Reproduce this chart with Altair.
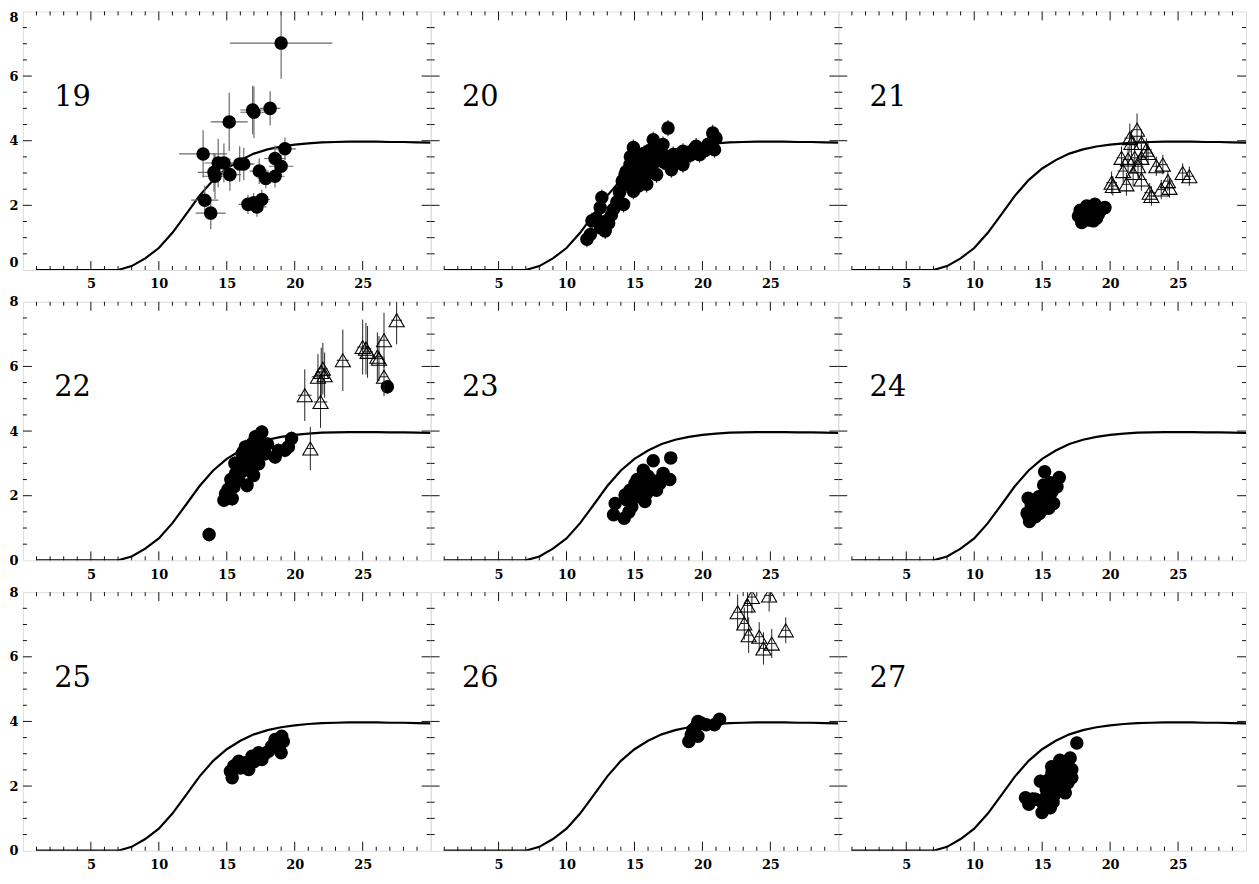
import altair as alt
import pandas as pd

FONT = "DejaVu Serif"
W, H = 410, 260

PANEL_LABELS = ["19", "20", "21", "22", "23", "24", "25", "26", "27"]

CURVE_X = [1, 2, 3, 4, 5, 6, 7, 8, 9, 10, 11, 12, 13, 14, 15, 16, 17, 18, 19, 20,
           21, 22, 23, 24, 25, 26, 27, 28, 29, 30]
CURVE_Y = [0, 0, 0, 0, 0, 0, 0, 0.12, 0.36, 0.68, 1.15, 1.72, 2.30, 2.78, 3.14, 3.40,
           3.60, 3.73, 3.82, 3.88, 3.92, 3.95, 3.96, 3.97, 3.97, 3.97, 3.96, 3.96, 3.95, 3.94]

X_MAJOR = [5, 10, 15, 20, 25]
X_MINOR = [1, 2, 3, 4, 6, 7, 8, 9, 11, 12, 13, 14, 16, 17, 18, 19, 21, 22, 23, 24, 26, 27, 28, 29]
Y_MAJOR = [0, 2, 4, 6, 8]
Y_MINOR = [0.5, 1, 1.5, 2.5, 3, 3.5, 4.5, 5, 5.5, 6.5, 7, 7.5]

# ---- panel 19 ----
C19_X = [19.0, 15.18, 17.0, 16.9, 18.19, 13.26, 19.28, 14.37, 14.79, 14.06, 14.13, 15.23, 15.95,
         16.25, 17.39, 17.87, 18.55, 19.0, 18.55, 13.38, 13.82, 16.56, 16.98, 17.22, 17.58]
C19_Y = [7.02, 4.58, 4.88, 4.95, 5.0, 3.59, 3.75, 3.31, 3.31, 3.02, 2.9, 2.95, 3.28,
         3.28, 3.06, 2.83, 3.45, 3.21, 2.9, 2.16, 1.76, 2.03, 2.08, 1.95, 2.18]
C19_XE = [3.77, 1.36, 1.0, 0.9, 0.75, 1.76, 0.8, 1.0, 0.7, 1.2, 0.9, 0.8, 1.0,
          0.8, 0.7, 0.6, 0.8, 0.9, 0.7, 1.0, 1.1, 0.7, 0.6, 0.7, 0.6]
C19_YE = [1.1, 0.9, 0.8, 0.75, 0.53, 0.73, 0.35, 0.75, 0.6, 0.6, 0.7, 0.5, 0.55,
          0.5, 0.4, 0.3, 0.4, 0.35, 0.35, 0.45, 0.5, 0.3, 0.3, 0.3, 0.3]

# ---- panel 20 ----
C20_X = [11.5, 11.75, 11.87, 12.6, 12.48, 12.85, 12.97, 13.45, 14.2, 14.31, 14.44, 14.92, 14.67,
         14.92, 15.4, 15.4, 15.9, 15.9, 16.38, 16.63, 16.63, 17.1, 17.1, 17.47, 17.72, 17.85,
         18.57, 18.57, 19.54, 19.79, 20.4, 20.76, 20.89, 21.0, 14.4, 14.9, 15.1, 15.6, 15.9,
         16.4, 16.9, 17.4, 14.3, 14.1, 15.0, 15.6, 13.9, 13.7, 13.3, 12.5, 16.1, 16.6, 15.5,
         18.1, 19.1, 20.2, 14.7, 15.2, 15.7, 16.2, 16.8, 17.3, 14.6, 15.3, 16.0, 15.0, 13.1,
         12.2, 18.3, 19.4, 20.5]
C20_Y = [0.95, 1.1, 1.52, 2.24, 1.93, 1.21, 1.52, 1.88, 2.03, 2.95, 2.65, 3.79, 3.26,
         2.44, 3.36, 2.85, 2.65, 3.47, 4.03, 3.57, 2.95, 3.88, 3.36, 4.39, 3.1, 3.57,
         3.67, 3.26, 3.83, 3.57, 3.88, 4.24, 3.72, 4.08, 3.05, 3.05, 3.2, 3.3, 3.1,
         3.3, 3.4, 3.5, 2.85, 2.75, 2.75, 2.95, 2.4, 2.1, 1.7, 1.3, 3.7, 3.8, 3.55,
         3.45, 3.55, 3.7, 3.5, 3.55, 3.6, 3.45, 3.65, 3.3, 2.8, 2.6, 3.0, 3.4, 1.45,
         1.6, 3.5, 3.75, 3.9]

# ---- panel 21 ----
C21_X = [17.67, 17.91, 18.28, 18.88, 19.62, 18.77, 19.13, 18.16, 18.5, 19.3, 18.4, 17.8, 19.0]
C21_Y = [1.67, 1.47, 1.98, 2.03, 1.93, 1.52, 1.72, 1.72, 1.85, 1.85, 1.55, 1.85, 1.6]
T21_X = [21.98, 21.45, 21.57, 22.3, 22.67, 22.79, 20.84, 21.32, 21.81, 22.3, 22.05, 23.4, 23.88,
         20.96, 21.69, 25.34, 25.83, 20.11, 21.2, 22.3, 24.25, 24.37, 23.76, 22.91, 23.04, 20.2]
T21_Y = [4.34, 4.08, 3.93, 3.93, 3.72, 3.62, 3.47, 3.42, 3.47, 3.47, 3.21, 3.21, 3.26,
         3.06, 3.0, 3.0, 2.9, 2.7, 2.65, 2.8, 2.75, 2.54, 2.49, 2.39, 2.29, 2.6]
T21_XE = [0.35, 0.4, 0.3, 0.35, 0.4, 0.3, 0.35, 0.4, 0.3, 0.35, 0.4, 0.3, 0.35,
          0.4, 0.35, 0.3, 0.35, 0.4, 0.35, 0.4, 0.35, 0.3, 0.35, 0.4, 0.3, 0.35]
T21_YE = [0.5, 0.45, 0.4, 0.4, 0.35, 0.35, 0.35, 0.4, 0.45, 0.4, 0.35, 0.3, 0.3,
          0.35, 0.4, 0.3, 0.3, 0.35, 0.35, 0.35, 0.3, 0.3, 0.3, 0.3, 0.3, 0.3]

# ---- panel 22 ----
C22_X = [13.7, 26.82, 19.77, 14.79, 15.4, 14.91, 15.52, 15.64, 15.88, 16.37, 16.37, 16.86, 17.1,
         17.58, 17.46, 16.49, 16.97, 17.35, 17.83, 18.56, 19.28, 19.53, 15.88, 16.13, 15.3, 16.0,
         16.6, 17.0, 15.6, 16.2, 16.8, 18.0, 15.1, 15.5, 16.4, 17.2, 18.8]
C22_Y = [0.8, 5.37, 3.77, 1.86, 1.91, 2.06, 2.27, 2.68, 2.89, 3.1, 3.51, 3.61, 3.82,
         3.97, 3.72, 2.32, 2.63, 2.99, 3.3, 3.2, 3.41, 3.51, 2.48, 3.3, 2.5, 2.7,
         2.9, 3.2, 3.0, 3.35, 3.3, 3.6, 2.2, 2.4, 2.8, 3.45, 3.4]
T22_X = [20.74, 21.15, 21.9, 21.71, 21.95, 22.2, 22.07, 23.54, 25.0, 25.24, 25.36, 26.08, 26.57,
         26.57, 26.2, 27.5]
T22_Y = [5.11, 3.46, 4.9, 5.68, 5.83, 5.73, 5.93, 6.19, 6.6, 6.55, 6.45, 6.3, 6.81,
         5.68, 6.24, 7.43]
T22_XE = [0.5, 0.3, 0.5, 0.45, 0.4, 0.4, 0.35, 0.45, 0.4, 0.4, 0.4, 0.4, 0.3, 0.3, 0.35, 0.4]
T22_YE = [0.8, 0.67, 0.8, 0.7, 0.75, 0.7, 0.8, 0.95, 0.85, 0.8, 0.8, 0.75, 0.85, 0.6, 0.7, 0.75]

# ---- panel 23 ----
C23_X = [13.46, 13.58, 14.24, 14.43, 14.67, 14.8, 15.04, 15.4, 15.65, 15.77, 15.89, 16.38, 16.62,
         16.87, 17.11, 17.6, 17.67, 15.28, 14.31, 15.52, 16.26, 14.9, 15.2, 15.9, 16.5, 14.6,
         16.9, 16.0]
C23_Y = [1.41, 1.76, 1.3, 1.87, 2.17, 1.66, 2.38, 2.28, 2.79, 1.82, 2.07, 3.08, 2.17,
         2.38, 2.69, 2.5, 3.17, 1.97, 2.02, 2.53, 2.48, 2.0, 2.5, 2.3, 2.3, 1.5,
         2.5, 2.6]

# ---- panel 24 ----
C24_X = [15.18, 16.26, 16.09, 15.11, 13.97, 13.89, 14.07, 14.02, 14.5, 14.75, 15.23, 15.84, 15.48,
         14.5, 14.99, 15.72, 14.3, 14.6, 15.0, 15.4, 14.2, 14.8, 15.3, 15.6]
C24_Y = [2.74, 2.56, 2.28, 2.33, 1.92, 1.46, 1.2, 1.35, 1.66, 1.97, 1.87, 1.76, 1.61,
         1.35, 1.56, 2.12, 1.5, 1.8, 2.0, 1.9, 1.7, 1.45, 2.2, 2.4]

# ---- panel 25 ----
C25_X = [15.4, 15.27, 15.52, 15.88, 16.0, 16.61, 16.86, 17.58, 18.07, 18.56, 19.04, 19.16, 19.0,
         16.37, 17.34, 18.31, 17.0, 17.8, 18.8]
C25_Y = [2.26, 2.46, 2.62, 2.77, 2.56, 2.51, 2.92, 2.82, 3.08, 3.44, 3.54, 3.38, 3.03,
         2.72, 3.03, 3.23, 2.75, 3.0, 3.3]

# ---- panel 26 ----
C26_X = [19.0, 19.18, 19.55, 19.67, 19.67, 20.28, 20.89, 21.26, 19.3, 19.9]
C26_Y = [3.38, 3.59, 3.85, 4.0, 3.54, 3.9, 3.9, 4.07, 3.74, 3.95]
T26_X = [22.59, 23.32, 23.64, 23.08, 23.4, 24.18, 24.49, 25.1, 24.91, 26.13]
T26_Y = [7.38, 7.59, 7.85, 7.03, 6.67, 6.62, 6.26, 6.41, 7.9, 6.82]
T26_XE = [0.35, 0.35, 0.35, 0.3, 0.35, 0.3, 0.35, 0.35, 0.35, 0.35]
T26_YE = [0.55, 0.5, 0.5, 0.5, 0.55, 0.45, 0.5, 0.45, 0.5, 0.4]

# ---- panel 27 ----
C27_X = [17.55, 17.06, 17.18, 17.18, 16.7, 16.21, 15.72, 14.87, 13.77, 14.02, 14.99, 15.6, 15.48,
         15.96, 16.7, 16.45, 16.94, 14.5, 15.11, 15.84, 15.5, 15.9, 16.2, 16.5, 16.0, 15.3,
         15.0, 16.3, 15.7, 16.9, 14.3, 15.8, 16.6]
C27_Y = [3.33, 2.87, 2.51, 2.26, 1.79, 2.62, 2.41, 2.15, 1.64, 1.44, 1.18, 1.33, 1.79,
         2.0, 2.21, 2.41, 2.51, 1.59, 1.59, 1.69, 2.2, 2.5, 2.3, 2.0, 1.8, 1.9,
         1.5, 2.8, 2.6, 2.1, 1.6, 1.5, 2.6]

CIRC_YERR = {"20": 0.25, "21": 0.1, "22": 0.22, "23": 0.15, "24": 0.15, "25": 0.1, "26": 0.15, "27": 0.2}

PANEL_DATA = {
    "19": dict(cx=C19_X, cy=C19_Y, cxe=C19_XE, cye=C19_YE),
    "20": dict(cx=C20_X, cy=C20_Y),
    "21": dict(cx=C21_X, cy=C21_Y, tx=T21_X, ty=T21_Y, txe=T21_XE, tye=T21_YE),
    "22": dict(cx=C22_X, cy=C22_Y, tx=T22_X, ty=T22_Y, txe=T22_XE, tye=T22_YE),
    "23": dict(cx=C23_X, cy=C23_Y),
    "24": dict(cx=C24_X, cy=C24_Y),
    "25": dict(cx=C25_X, cy=C25_Y),
    "26": dict(cx=C26_X, cy=C26_Y, tx=T26_X, ty=T26_Y, txe=T26_XE, tye=T26_YE),
    "27": dict(cx=C27_X, cy=C27_Y),
}

XS = alt.Scale(domain=[0, 30], nice=False, zero=False)
YS = alt.Scale(domain=[0, 8], nice=False, zero=False)

XAXIS = alt.Axis(values=X_MAJOR, format="d", ticks=False, domain=False, grid=False,
                 labelFont=FONT, labelFontWeight="bold", labelFontSize=13, labelColor="black",
                 labelPadding=8, title=None)


def yaxis(row, col):
    if col != 0:
        return None
    return alt.Axis(values=Y_MAJOR, format="d", ticks=False, domain=False, grid=False,
                    labelFont=FONT, labelFontWeight="bold", labelFontSize=13, labelColor="black",
                    labelPadding=5, title=None, labelFlush=(row == 0))


def panel(label, row, col):
    d = PANEL_DATA[label]
    ya = yaxis(row, col)

    def X(f):
        return alt.X(f, type="quantitative", scale=XS, axis=XAXIS)

    def Y(f):
        if ya is None:
            return alt.Y(f, type="quantitative", scale=YS, axis=None)
        return alt.Y(f, type="quantitative", scale=YS, axis=ya)

    layers = []
    tick_col = "#111111"
    xmaj = pd.DataFrame({"v": X_MAJOR})
    xmin = pd.DataFrame({"v": X_MINOR})
    ymaj = pd.DataFrame({"v": Y_MAJOR[1:-1]})
    ymin = pd.DataFrame({"v": Y_MINOR})
    for df, ln in ((xmaj, 9), (xmin, 4)):
        layers.append(alt.Chart(df).mark_rule(color=tick_col, strokeWidth=1).encode(
            x=X("v"), y=alt.value(H), y2=alt.value(H - ln)))
        layers.append(alt.Chart(df).mark_rule(color=tick_col, strokeWidth=1).encode(
            x=X("v"), y=alt.value(0), y2=alt.value(ln)))
    for df, ln in ((ymaj, 9), (ymin, 4)):
        layers.append(alt.Chart(df).mark_rule(color=tick_col, strokeWidth=1).encode(
            y=Y("v"), x=alt.value(0), x2=alt.value(ln)))
        layers.append(alt.Chart(df).mark_rule(color=tick_col, strokeWidth=1).encode(
            y=Y("v"), x=alt.value(W), x2=alt.value(W - ln)))

    curve = pd.DataFrame({"x": CURVE_X, "y": CURVE_Y})
    layers.append(alt.Chart(curve).mark_line(color="black", strokeWidth=2.2, clip=True).encode(
        x=X("x"), y=Y("y")))

    # circles
    cx, cy = d["cx"], d["cy"]
    cdf = pd.DataFrame({"x": cx, "y": cy})
    if "cye" in d:
        cdf["ylo"] = [a - b for a, b in zip(cy, d["cye"])]
        cdf["yhi"] = [a + b for a, b in zip(cy, d["cye"])]
        cdf["xlo"] = [a - b for a, b in zip(cx, d["cxe"])]
        cdf["xhi"] = [a + b for a, b in zip(cx, d["cxe"])]
        ecol = "#6a6a6a"
        layers.append(alt.Chart(cdf).mark_rule(color=ecol, strokeWidth=1.2, clip=True).encode(
            x=X("xlo"), x2=alt.X2("xhi"), y=Y("y")))
    else:
        e = CIRC_YERR[label]
        cdf["ylo"] = [a - e for a in cy]
        cdf["yhi"] = [a + e for a in cy]
        ecol = "#333333"
    layers.append(alt.Chart(cdf).mark_rule(color=ecol, strokeWidth=1.2, clip=True).encode(
        x=X("x"), y=Y("ylo"), y2=alt.Y2("yhi")))
    layers.append(alt.Chart(cdf).mark_circle(size=185, color="black", opacity=1, clip=True).encode(
        x=X("x"), y=Y("y")))

    # triangles
    if "tx" in d:
        tx, ty = d["tx"], d["ty"]
        tdf = pd.DataFrame({
            "x": tx, "y": ty,
            "xlo": [a - b for a, b in zip(tx, d["txe"])],
            "xhi": [a + b for a, b in zip(tx, d["txe"])],
            "ylo": [a - b for a, b in zip(ty, d["tye"])],
            "yhi": [a + b for a, b in zip(ty, d["tye"])],
        })
        layers.append(alt.Chart(tdf).mark_rule(color="#222222", strokeWidth=1, clip=True).encode(
            x=X("x"), y=Y("ylo"), y2=alt.Y2("yhi")))
        layers.append(alt.Chart(tdf).mark_rule(color="#222222", strokeWidth=1, clip=True).encode(
            x=X("xlo"), x2=alt.X2("xhi"), y=Y("y")))
        layers.append(alt.Chart(tdf).mark_point(shape="triangle-up", size=230, filled=False,
                                                stroke="black", strokeWidth=1.1, opacity=1,
                                                clip=True).encode(x=X("x"), y=Y("y")))

    ldf = pd.DataFrame({"x": [2.3], "y": [5.35], "t": [label]})
    layers.append(alt.Chart(ldf).mark_text(align="left", baseline="middle", font=FONT,
                                           fontSize=29, color="black").encode(
        x=X("x"), y=Y("y"), text="t:N"))

    return alt.layer(*layers).properties(width=W, height=H)


panels = []
for i, lab in enumerate(PANEL_LABELS):
    panels.append(panel(lab, i // 3, i % 3))

chart = alt.concat(*panels, columns=3, spacing={"row": 32, "column": 0}, bounds="flush").properties(
    padding={"left": 0, "top": 0, "right": 4, "bottom": 4}
).configure_view(stroke="#111111", strokeWidth=1.5).configure(background="white")

chart.save("out.html", embed_options={"renderer": "svg", "actions": False})
